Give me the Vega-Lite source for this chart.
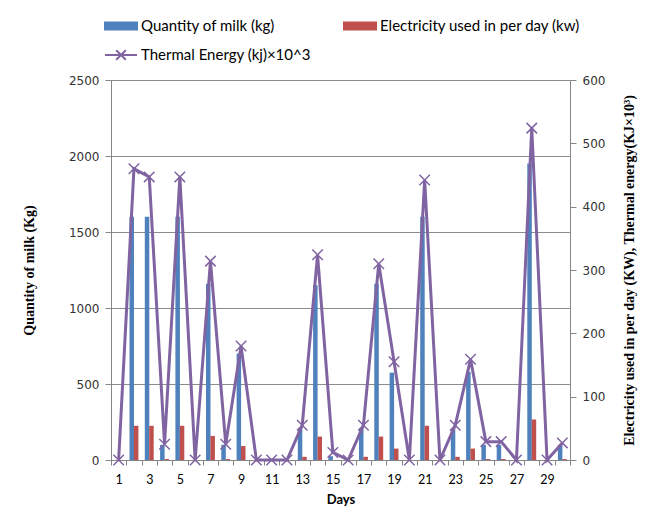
{
  "$schema": "https://vega.github.io/schema/vega-lite/v6.json",
  "width": 459,
  "height": 380,
  "autosize": {"type": "none"},
  "padding": {"left": 111, "top": 80, "right": 81, "bottom": 61},
  "background": "white",
  "config": {
    "view": {"stroke": null},
    "axis": {"domainColor": "#868686", "tickColor": "#868686", "gridColor": "#8c8c8c", "labelColor": "#333333"}
  },
  "data": {
    "values": [
      {"day": 1, "milk": 0, "elec": 0, "thermal": 0},
      {"day": 2, "milk": 1600, "elec": 54, "thermal": 460},
      {"day": 3, "milk": 1600, "elec": 54, "thermal": 447},
      {"day": 4, "milk": 100, "elec": 1.5, "thermal": 25},
      {"day": 5, "milk": 1600, "elec": 54, "thermal": 447},
      {"day": 6, "milk": 0, "elec": 0, "thermal": 0},
      {"day": 7, "milk": 1160, "elec": 38, "thermal": 314},
      {"day": 8, "milk": 100, "elec": 1.5, "thermal": 25},
      {"day": 9, "milk": 700, "elec": 22, "thermal": 180},
      {"day": 10, "milk": 0, "elec": 0, "thermal": 0},
      {"day": 11, "milk": 0, "elec": 0, "thermal": 0},
      {"day": 12, "milk": 0, "elec": 0, "thermal": 0},
      {"day": 13, "milk": 210, "elec": 5, "thermal": 55},
      {"day": 14, "milk": 1150, "elec": 37, "thermal": 324},
      {"day": 15, "milk": 25, "elec": 0, "thermal": 12},
      {"day": 16, "milk": 0, "elec": 0, "thermal": 0},
      {"day": 17, "milk": 210, "elec": 5, "thermal": 55},
      {"day": 18, "milk": 1160, "elec": 37, "thermal": 310},
      {"day": 19, "milk": 575, "elec": 18, "thermal": 155},
      {"day": 20, "milk": 0, "elec": 0, "thermal": 0},
      {"day": 21, "milk": 1600, "elec": 54, "thermal": 442},
      {"day": 22, "milk": 0, "elec": 0, "thermal": 0},
      {"day": 23, "milk": 200, "elec": 5, "thermal": 55},
      {"day": 24, "milk": 580, "elec": 18, "thermal": 159},
      {"day": 25, "milk": 100, "elec": 1.5, "thermal": 29},
      {"day": 26, "milk": 100, "elec": 1.5, "thermal": 29},
      {"day": 27, "milk": 0, "elec": 0, "thermal": 0},
      {"day": 28, "milk": 1950, "elec": 64, "thermal": 524},
      {"day": 29, "milk": 0, "elec": 0, "thermal": 0},
      {"day": 30, "milk": 100, "elec": 1.5, "thermal": 27}
    ]
  },
  "encoding": {
    "x": {
      "field": "day",
      "type": "ordinal",
      "sort": "ascending",
      "scale": {"paddingInner": 0, "paddingOuter": 0},
      "axis": {
        "title": "Days",
        "titleFont": "Lato",
        "titleFontSize": 13,
        "titleFontWeight": "bold",
        "titleColor": "#000000",
        "titlePadding": 8,
        "labelAngle": 0,
        "labelFont": "Lato",
        "labelFontSize": 12.5,
        "labelColor": "#000000",
        "labelPadding": 8,
        "labelExpr": "datum.value % 2 == 1 ? datum.label : ''",
        "tickBand": "extent",
        "tickSize": 5,
        "grid": false
      }
    }
  },
  "layer": [
    {
      "mark": {"type": "bar", "width": 4.5, "xOffset": -2.2},
      "encoding": {
        "y": {
          "field": "milk",
          "type": "quantitative",
          "scale": {"domain": [0, 2500], "nice": false},
          "axis": {
            "title": "Quantity of milk (Kg)",
            "titleFont": "Liberation Serif",
            "titleFontSize": 14,
            "titleFontWeight": "bold",
            "titleColor": "#000000",
            "titlePadding": 32,
            "values": [0, 500, 1000, 1500, 2000, 2500],
            "format": "d",
            "labelFont": "DejaVu Sans",
            "labelFontSize": 12,
            "labelPadding": 6,
            "tickSize": 6,
            "grid": true
          }
        },
        "color": {
          "datum": "Quantity of milk (kg)",
          "type": "nominal",
          "scale": {
            "domain": ["Quantity of milk (kg)", "Electricity used in per day (kw)", "Thermal Energy (kj)×10^3"],
            "range": ["#4F81BD", "#C0504D", "#8064A2"]
          },
          "legend": {
            "title": null,
            "orient": "none",
            "legendX": -7,
            "legendY": -71,
            "direction": "horizontal",
            "columns": 2,
            "columnPadding": 29,
            "rowPadding": 4,
            "labelFont": "Lato",
            "labelFontSize": 15,
            "labelLimit": 0,
            "labelColor": "#000000",
            "labelOffset": 3,
            "symbolSize": 1024,
            "encode": {
              "symbols": {
                "update": {
                  "shape": {"signal": "datum.value === 'Thermal Energy (kj)×10^3' ? 'M-1,0H1M-0.3,-0.3L0.3,0.3M0.3,-0.3L-0.3,0.3' : 'M-1,-0.22H1V0.22H-1Z'"},
                  "fill": {"signal": "datum.value === 'Thermal Energy (kj)×10^3' ? 'transparent' : (datum.value === 'Quantity of milk (kg)' ? '#4F81BD' : '#C0504D')"},
                  "stroke": {"signal": "datum.value === 'Thermal Energy (kj)×10^3' ? '#8064A2' : 'transparent'"},
                  "strokeWidth": {"value": 2}
                }
              }
            }
          }
        }
      }
    },
    {
      "layer": [
        {
          "mark": {"type": "bar", "width": 4.5, "xOffset": 2.2},
          "encoding": {
            "y": {
              "field": "elec",
              "type": "quantitative",
              "scale": {"domain": [0, 600], "nice": false},
              "axis": {
                "orient": "right",
                "title": "Electricity used in per day (KW), Thermal energy(KJ×10³)",
                "titleFont": "Liberation Serif",
                "titleFontSize": 14,
                "titleFontWeight": "bold",
                "titleColor": "#000000",
                "titleAngle": 270,
                "titlePadding": 32,
                "values": [0, 100, 200, 300, 400, 500, 600],
                "labelFont": "DejaVu Sans",
                "labelFontSize": 12,
                "labelPadding": 6,
                "tickSize": 6,
                "grid": false
              }
            },
            "color": {"datum": "Electricity used in per day (kw)", "type": "nominal"}
          }
        },
        {
          "mark": {
            "type": "line",
            "strokeWidth": 3,
            "point": {
              "shape": "M-1,-1L1,1M1,-1L-1,1",
              "filled": false,
              "size": 110,
              "strokeWidth": 1.5,
              "color": "#8064A2"
            }
          },
          "encoding": {
            "y": {"field": "thermal", "type": "quantitative"},
            "color": {"datum": "Thermal Energy (kj)×10^3", "type": "nominal"}
          }
        }
      ]
    }
  ],
  "resolve": {"scale": {"y": "independent"}}
}
